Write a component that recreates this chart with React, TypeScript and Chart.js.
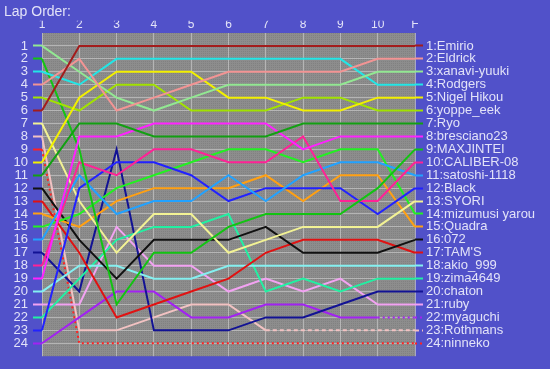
import React, { useEffect, useRef } from 'react';
import { Chart, registerables } from 'chart.js';

Chart.register(...registerables);

const lapLabels = ['1', '2', '3', '4', '5', '6', '7', '8', '9', '10', 'F'];
const gridPositions = [1, 2, 3, 4, 5, 6, 7, 8, 9, 10, 11, 12, 13, 14, 15, 16, 17, 18, 19, 20, 21, 22, 23, 24];

const driverNames = [
  'Emirio', 'Eldrick', 'xanavi-yuuki', 'Rodgers', 'Nigel Hikou', 'yoppe_eek', 'Ryo', 'bresciano23',
  'MAXJINTEI', 'CALIBER-08', 'satoshi-1118', 'Black', 'SYORI', 'mizumusi yarou', 'Quadra', '072',
  "TAM'S", 'akio_999', 'zima4649', 'chaton', 'ruby', 'myaguchi', 'Rothmans', 'ninneko',
];

const driverColors = [
  '#a31c1c', '#f29494', '#92e892', '#22e6e6', '#f2f000', '#a2e200', '#12a012', '#ff22ff',
  '#12c412', '#ff2296', '#22a2ff', '#2222ff', '#f2f294', '#22f022', '#ffa012', '#111111',
  '#e01212', '#84f0f0', '#22f0a2', '#121294', '#f2a2f2', '#a222f2', '#f2c2c2', '#ff2222',
];

// positions per lap: 1..10, F
const posEmirio = [6, 1, 1, 1, 1, 1, 1, 1, 1, 1, 1];
const posEldrick = [4, 2, 6, 5, 4, 3, 3, 3, 3, 2, 2];
const posXanavi = [1, 3, 5, 6, 5, 4, 4, 4, 4, 3, 3];
const posRodgers = [3, 4, 2, 2, 2, 2, 2, 2, 2, 4, 4];
const posNigel = [10, 5, 3, 3, 3, 5, 5, 6, 6, 5, 5];
const posYoppe = [5, 6, 4, 4, 6, 6, 6, 5, 5, 6, 6];
const posRyo = [11, 7, 7, 8, 8, 8, 8, 7, 7, 7, 7];
const posBresciano = [19, 8, 8, 7, 7, 7, 7, 9, 8, 8, 8];
const posMaxjintei = [2, 9, 21, 17, 17, 15, 14, 14, 14, 12, 9];
const posCaliber = [18, 10, 11, 9, 9, 10, 10, 8, 13, 13, 10];
const posSatoshi = [16, 11, 14, 13, 13, 11, 13, 11, 10, 10, 11];
const posBlack = [23, 12, 10, 10, 11, 13, 12, 12, 12, 14, 12];
const posSyori = [7, 13, 17, 14, 14, 17, 16, 15, 15, 15, 13];
const posMizumusi = [15, 14, 12, 11, 10, 9, 9, 10, 9, 9, 14];
const posQuadra = [14, 15, 13, 12, 12, 12, 11, 13, 11, 11, 15];
const pos072 = [12, 16, 19, 16, 16, 16, 15, 17, 17, 17, 16];
const posTams = [13, 17, 22, 21, 20, 19, 17, 16, 16, 16, 17];
const posAkio = [20, 18, 18, 19, 19, 18, 18, 18, 18, 18, 18];
const posZima = [22, 19, 16, 15, 15, 14, 20, 19, 20, 19, 19];
const posChaton = [17, 20, 9, 23, 23, 23, 22, 22, 21, 20, 20];
const posRuby = [21, 21, 15, 18, 18, 20, 19, 20, 19, 21, 21];
const posMyaguchi = [24, 22, 20, 20, 22, 22, 21, 21, 22, 22, 22];
const posRothmans = [8, 23, 23, 22, 21, 21, 23, 23, 23, 23, 23];
const posNinneko = [9, 24, 24, 24, 24, 24, 24, 24, 24, 24, 24];

const series = [
  posEmirio, posEldrick, posXanavi, posRodgers, posNigel, posYoppe, posRyo, posBresciano,
  posMaxjintei, posCaliber, posSatoshi, posBlack, posSyori, posMizumusi, posQuadra, pos072,
  posTams, posAkio, posZima, posChaton, posRuby, posMyaguchi, posRothmans, posNinneko,
];

// line style after retirement: [driver index, first dashed segment, dash pattern]
const retiredStyles: Array<[number, number, number[]]> = [
  [21, 9, [2, 3]],
  [22, 6, [4, 3]],
  [23, 0, [2, 3]],
];

const TEXT = '#e2e2f8';
const FONT = "'Liberation Sans', Arial, sans-serif";

export default function App() {
  const ref = useRef<HTMLCanvasElement>(null);

  useEffect(() => {
    const canvas = ref.current;
    if (!canvas) return;

    const startOwner: Record<number, number> = {};
    series.forEach((s, i) => {
      startOwner[s[0]] = i;
    });
    const dashFor = (i: number) => retiredStyles.find((r) => r[0] === i);

    const plotBg = {
      id: 'plotBg',
      beforeDraw(chart: any) {
        const { ctx, chartArea: a } = chart;
        ctx.save();
        ctx.fillStyle = '#8d8d8d';
        ctx.fillRect(a.left, a.top, a.right - a.left, a.bottom - a.top);
        ctx.fillStyle = 'rgba(110,110,110,0.35)';
        for (let y = Math.floor(a.top); y < a.bottom; y += 2) {
          for (let x = Math.floor(a.left) + ((y / 2) % 2 ? 1 : 0); x < a.right; x += 2) {
            ctx.fillRect(x, y, 1, 1);
          }
        }
        ctx.restore();
      },
    };

    const chart = new Chart(canvas, {
      type: 'line',
      data: {
        labels: lapLabels,
        datasets: series.map((s, i) => {
          const d = dashFor(i);
          return {
            label: driverNames[i],
            data: s,
            borderColor: driverColors[i],
            backgroundColor: driverColors[i],
            borderWidth: 2,
            pointRadius: 0,
            pointHoverRadius: 0,
            tension: 0,
            fill: false,
            yAxisID: 'y',
            segment: {
              borderDash: (c: any) => (d && c.p0DataIndex >= d[1] ? d[2] : undefined),
            },
          };
        }),
      },
      plugins: [plotBg],
      options: {
        animation: false,
        responsive: false,
        events: [],
        layout: { padding: { left: 4, right: 0, top: 0, bottom: 9 } },
        plugins: {
          legend: { display: false },
          tooltip: { enabled: false },
          title: {
            display: true,
            text: 'Lap Order:',
            align: 'start',
            color: TEXT,
            font: { family: FONT, size: 14, weight: 'normal' },
            padding: { top: 4, bottom: 0 },
          },
        },
        scales: {
          x: {
            type: 'category',
            position: 'top',
            offset: false,
            grid: { color: 'rgba(196,196,196,0.75)', drawTicks: false, lineWidth: 1 },
            border: { display: false },
            ticks: {
              color: TEXT,
              font: { family: FONT, size: 12 },
              padding: 1,
              maxRotation: 0,
              autoSkip: false,
            },
            afterFit: (s: any) => {
              s.height = 12.2;
            },
          },
          y: {
            type: 'linear',
            position: 'left',
            reverse: true,
            min: 0,
            max: 25,
            afterBuildTicks: (s: any) => {
              s.ticks = gridPositions.map((v) => ({ value: v }));
            },
            ticks: {
              color: TEXT,
              font: { family: FONT, size: 13 },
              padding: 5,
              autoSkip: false,
              callback: (v: any) => String(v),
            },
            grid: {
              color: 'rgba(196,196,196,0.75)',
              lineWidth: 1,
              tickLength: 9,
              tickWidth: 2,
              tickColor: (c: any) => driverColors[startOwner[c.tick?.value]] || 'transparent',
            },
            border: { display: false },
            afterFit: (s: any) => {
              s.width = 38;
            },
          },
          y2: {
            type: 'linear',
            position: 'right',
            reverse: true,
            min: 0,
            max: 25,
            afterBuildTicks: (s: any) => {
              s.ticks = gridPositions.map((v) => ({ value: v }));
            },
            ticks: {
              color: TEXT,
              font: { family: FONT, size: 13 },
              padding: 3,
              autoSkip: false,
              callback: (v: any) => `${v}:${driverNames[Number(v) - 1]}`,
            },
            grid: {
              drawOnChartArea: false,
              tickLength: 8,
              tickWidth: 2,
              tickColor: (c: any) => driverColors[(c.tick?.value ?? 1) - 1] || 'transparent',
              tickBorderDash: (c: any) => {
                const d = dashFor((c.tick?.value ?? 1) - 1);
                return d ? d[2] : [];
              },
            },
            border: { display: false },
            afterFit: (s: any) => {
              s.width = 135;
            },
          },
        },
      } as any,
    });

    return () => chart.destroy();
  }, []);

  return (
    <div
      style={{
        position: 'fixed',
        left: 0,
        top: 0,
        width: 550,
        height: 369,
        background: '#5151c9',
        overflow: 'hidden',
      }}
    >
      <canvas ref={ref} width={550} height={369} style={{ display: 'block', width: 550, height: 369 }} />
    </div>
  );
}
